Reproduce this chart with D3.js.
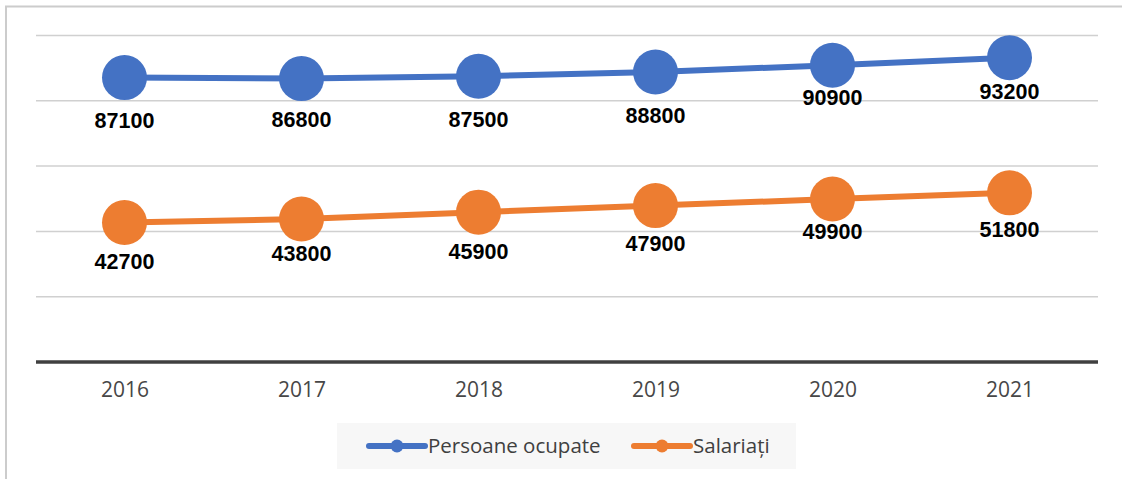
<!DOCTYPE html>
<html>
<head>
<meta charset="utf-8">
<script src="https://cdn.jsdelivr.net/npm/d3@7"></script>
<style>
  body { margin: 0; background: #fff; }
  svg { display: block; }
</style>
</head>
<body>
<svg id="chart"></svg>
<script>
const W = 1122, H = 479;

// date
const years = ["2016", "2017", "2018", "2019", "2020", "2021"];
const persoaneOcupate = [87100, 86800, 87500, 88800, 90900, 93200];
const salariati = [42700, 43800, 45900, 47900, 49900, 51800];
const yTicks = [0, 20000, 40000, 60000, 80000, 100000];
const seriesNames = ["Persoane ocupate", "Salariați"];
const seriesColors = ["#4472c4", "#ed7d31"];

// deplasarea etichetelor sub punct (ca in original, unele mutate manual)
const labelDyBlue = [43, 41, 43, 43, 32, 34];
const labelDyOrange = [39, 34, 39, 38, 32, 37];

const margin = { top: 35.5, right: 24, bottom: 117, left: 36 };
const width = W - margin.left - margin.right,
    height = H - margin.top - margin.bottom;

const svg = d3.select("#chart")
    .attr("width", W)
    .attr("height", H);

// rama
svg.append("rect")
    .attr("x", 6).attr("y", 6.5)
    .attr("width", W).attr("height", H)
    .attr("fill", "none")
    .attr("stroke", "#cccccc")
    .attr("stroke-width", 2);

const g = svg.append("g")
    .attr("transform", "translate(" + margin.left + "," + margin.top + ")");

const x = d3.scalePoint()
    .domain(years)
    .range([0, width])
    .padding(0.5);

const y = d3.scaleLinear()
    .domain([0, 100000])
    .range([height, 0]);

// grila
g.append("g")
    .selectAll("line")
    .data(yTicks.filter(d => d > 0))
    .enter()
    .append("line")
    .attr("x1", 0).attr("x2", width)
    .attr("y1", d => y(d)).attr("y2", d => y(d))
    .attr("stroke", "#d0d0d0")
    .attr("stroke-width", 1.5);

// axa x
const xaxis = g.append("g")
    .attr("transform", "translate(0," + height + ")")
    .call(d3.axisBottom(x).tickSize(0).tickPadding(20));
xaxis.select(".domain")
    .attr("d", "M0,0H" + width)
    .attr("stroke", "#404040")
    .attr("stroke-width", 3.5);
xaxis.selectAll("text")
    .attr("fill", "#474747")
    .style("font-family", "'Open Sans', sans-serif")
    .style("font-size", "21px");

const series = [
    { name: seriesNames[0], values: persoaneOcupate, color: seriesColors[0], dy: labelDyBlue },
    { name: seriesNames[1], values: salariati, color: seriesColors[1], dy: labelDyOrange }
];

const line = d3.line()
    .x((d, i) => x(years[i]))
    .y(d => y(d));

series.forEach(function (s) {
    g.append("path")
        .datum(s.values)
        .attr("d", line)
        .attr("fill", "none")
        .attr("stroke", s.color)
        .attr("stroke-width", 6)
        .attr("stroke-linejoin", "round");

    g.selectAll(null)
        .data(s.values)
        .enter()
        .append("circle")
        .attr("cx", (d, i) => x(years[i]))
        .attr("cy", d => y(d))
        .attr("r", 22.5)
        .attr("fill", s.color);

    g.selectAll(null)
        .data(s.values)
        .enter()
        .append("text")
        .attr("x", (d, i) => x(years[i]))
        .attr("y", (d, i) => y(d) + s.dy[i])
        .attr("dy", "0.35em")
        .attr("text-anchor", "middle")
        .style("font-family", "'Liberation Sans', Arial, sans-serif")
        .style("font-weight", "bold")
        .style("font-size", "21.5px")
        .attr("fill", "#000")
        .text(d => d);
});

// legenda
const legend = svg.append("g");
legend.append("rect")
    .attr("x", 337).attr("y", 423)
    .attr("width", 459).attr("height", 46)
    .attr("fill", "#f7f7f7");

const legendX = [369, 634];
series.forEach(function (s, i) {
    const lg = legend.append("g")
        .attr("transform", "translate(" + legendX[i] + ",446)");
    lg.append("line")
        .attr("x1", 0).attr("x2", 56)
        .attr("stroke", s.color)
        .attr("stroke-width", 6)
        .attr("stroke-linecap", "round");
    lg.append("circle")
        .attr("cx", 28).attr("r", 6.5)
        .attr("fill", s.color);
    lg.append("text")
        .attr("x", 59)
        .attr("dy", "0.35em")
        .attr("fill", "#404040")
        .style("font-family", "'Open Sans', sans-serif")
        .style("font-size", "20.5px")
        .text(s.name);
});
</script>
</body>
</html>
